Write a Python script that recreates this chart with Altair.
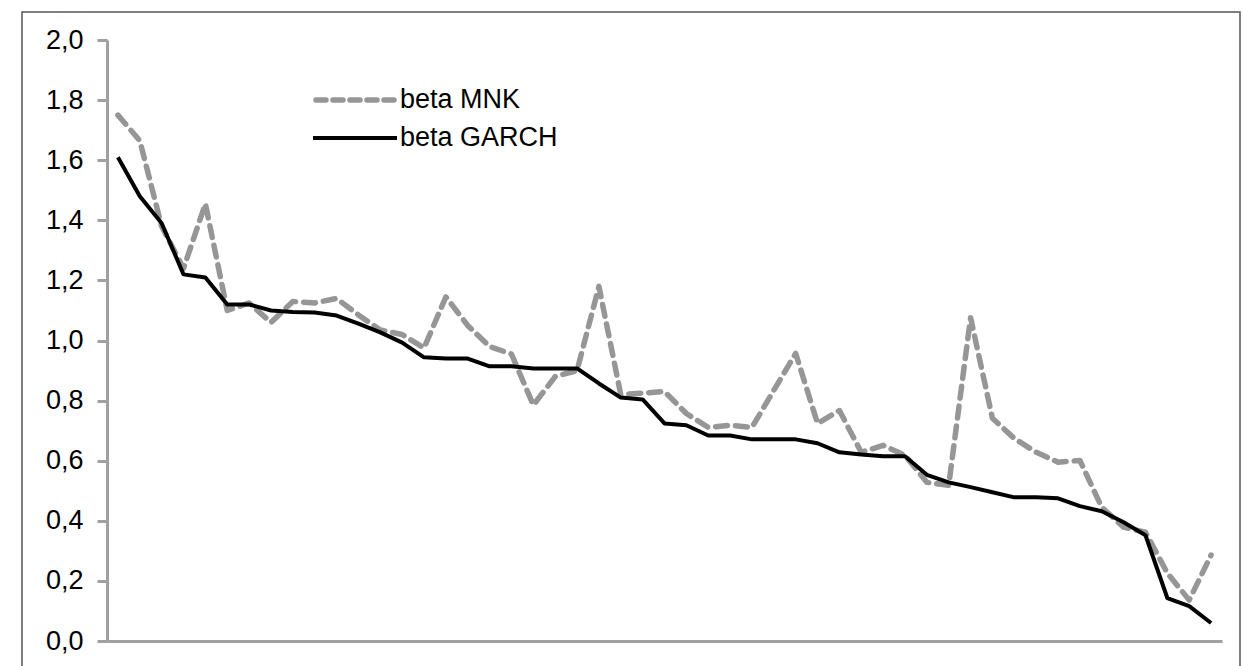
import altair as alt
import pandas as pd

# values
garch = [1.61, 1.48, 1.39, 1.22, 1.21, 1.12, 1.12, 1.10, 1.095, 1.093, 1.083, 1.056, 1.027,
         0.993, 0.944, 0.94, 0.94, 0.914, 0.914, 0.907, 0.907, 0.907, 0.857, 0.81, 0.804,
         0.724, 0.718, 0.684, 0.684, 0.671, 0.671, 0.671, 0.658, 0.628, 0.621, 0.615, 0.615,
         0.553, 0.528, 0.512, 0.495, 0.478, 0.478, 0.475, 0.449, 0.432, 0.395, 0.352, 0.143,
         0.116, 0.06]
mnk = [1.75, 1.665, 1.38, 1.24, 1.455, 1.10, 1.125, 1.06, 1.13, 1.125, 1.14, 1.085, 1.035,
       1.02, 0.975, 1.145, 1.05, 0.98, 0.955, 0.785, 0.88, 0.90, 1.18, 0.82, 0.825, 0.83,
       0.757, 0.711, 0.718, 0.711, 0.834, 0.957, 0.724, 0.767, 0.628, 0.651, 0.618, 0.528,
       0.518, 1.076, 0.741, 0.674, 0.628, 0.595, 0.601, 0.445, 0.379, 0.362, 0.226, 0.136,
       0.286]
series_names = ["beta MNK", "beta GARCH"]
y_ticks = [0.0, 0.2, 0.4, 0.6, 0.8, 1.0, 1.2, 1.4, 1.6, 1.8, 2.0]

n = len(garch)
df = pd.DataFrame({
    "idx": list(range(n)) * 2,
    "value": mnk + garch,
    "series": [series_names[0]] * n + [series_names[1]] * n,
})

FONT = "Liberation Sans"
GRAY = "#969696"
AXIS_GRAY = "#a0a0a0"
DASH = [12, 8]

x_enc = alt.X("idx:Q",
              scale=alt.Scale(domain=[-0.5, n - 0.5], nice=False, zero=False),
              axis=alt.Axis(title=None, labels=False, ticks=False, grid=False,
                            domainColor=AXIS_GRAY, domainWidth=3))
y_enc = alt.Y("value:Q",
              scale=alt.Scale(domain=[0, 2], nice=False),
              axis=alt.Axis(title=None, values=y_ticks,
                            labelExpr="replace(format(datum.value, '.1f'), '.', ',')",
                            grid=False, domainColor=AXIS_GRAY, domainWidth=3,
                            tickColor=AXIS_GRAY, tickWidth=3, tickSize=10,
                            labelPadding=14, labelFontSize=27, labelFont=FONT,
                            labelColor="black"))

base = alt.Chart(df)
mnk_line = base.transform_filter(alt.datum.series == series_names[0]).mark_line(
    stroke=GRAY, strokeWidth=5.5, strokeDash=DASH, strokeCap="round", strokeJoin="round"
).encode(x=x_enc, y=y_enc)
garch_line = base.transform_filter(alt.datum.series == series_names[1]).mark_line(
    stroke="black", strokeWidth=4, strokeJoin="round"
).encode(x=x_enc, y=y_enc)

# legend drawn by hand (inside the plot, top-left)
leg1 = pd.DataFrame({"label": [series_names[0]]})
leg2 = pd.DataFrame({"label": [series_names[1]]})
leg_sym1 = alt.Chart(leg1).mark_rule(stroke=GRAY, strokeWidth=5.5, strokeDash=[10, 7],
                                     strokeCap="round").encode(
    x=alt.value(209), x2=alt.value(288), y=alt.value(60))
leg_sym2 = alt.Chart(leg2).mark_rule(stroke="black", strokeWidth=4).encode(
    x=alt.value(206), x2=alt.value(290), y=alt.value(98))
leg_txt1 = alt.Chart(leg1).mark_text(align="left", baseline="middle", fontSize=27,
                                     font=FONT, color="black").encode(
    x=alt.value(293), y=alt.value(60), text="label:N")
leg_txt2 = alt.Chart(leg2).mark_text(align="left", baseline="middle", fontSize=27,
                                     font=FONT, color="black").encode(
    x=alt.value(293), y=alt.value(98), text="label:N")

# outer frame of the picture
frame = alt.Chart(pd.DataFrame({"f": [0]})).mark_rect(
    fillOpacity=0, stroke="#555555", strokeWidth=1.5).encode(
    x=alt.value(-85), x2=alt.value(1133), y=alt.value(-28), y2=alt.value(700))

chart = alt.layer(frame, mnk_line, garch_line, leg_sym1, leg_sym2, leg_txt1, leg_txt2).properties(
    width=1115, height=601,
    background="white",
    autosize=alt.AutoSizeParams(type="none"),
    padding={"left": 107, "top": 40, "right": 22, "bottom": 25},
).configure_view(strokeOpacity=0, strokeWidth=0)

chart.save("out.html", embed_options={"renderer": "svg", "actions": False})
